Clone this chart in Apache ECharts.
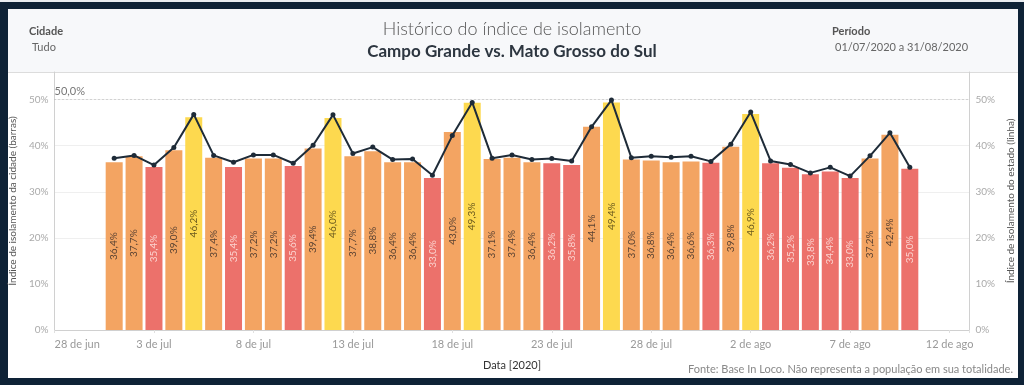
<!DOCTYPE html>
<html>
<head>
<meta charset="utf-8">
<script src="https://cdn.jsdelivr.net/npm/echarts@6/dist/echarts.min.js"></script>
<style>
html,body{margin:0;padding:0;background:#0e2236;}
#chart{width:1024px;height:385px;}
</style>
</head>
<body>
<div id="chart"></div>
<script>
// ---- data ----
const dates = [
  '2020-07-01','2020-07-02','2020-07-03','2020-07-04','2020-07-05','2020-07-06','2020-07-07',
  '2020-07-08','2020-07-09','2020-07-10','2020-07-11','2020-07-12','2020-07-13','2020-07-14',
  '2020-07-15','2020-07-16','2020-07-17','2020-07-18','2020-07-19','2020-07-20','2020-07-21',
  '2020-07-22','2020-07-23','2020-07-24','2020-07-25','2020-07-26','2020-07-27','2020-07-28',
  '2020-07-29','2020-07-30','2020-07-31','2020-08-01','2020-08-02','2020-08-03','2020-08-04',
  '2020-08-05','2020-08-06','2020-08-07','2020-08-08','2020-08-09','2020-08-10'
];
const cityValues = [
  36.4,37.7,35.4,39.0,46.2,37.4,35.4,37.2,37.2,35.6,39.4,46.0,37.7,38.8,
  36.4,36.4,33.0,43.0,49.3,37.1,37.4,36.4,36.2,35.8,44.1,49.4,37.0,36.8,
  36.4,36.6,36.3,39.8,46.9,36.2,35.2,33.8,34.4,33.0,37.2,42.4,35.0
];
const stateValues = [
  37.3,37.9,35.8,39.6,46.8,37.9,36.4,38.0,38.0,36.2,40.1,46.7,38.3,39.7,
  37.0,37.1,33.6,42.2,49.4,37.3,38.0,37.0,37.2,36.7,44.1,49.9,37.4,37.7,
  37.5,37.7,36.6,40.3,47.3,36.7,35.9,34.1,35.3,33.4,37.8,42.8,35.3
];
const axisStartDate = '2020-06-28';
const tickLabels = ['28 de jun','3 de jul','8 de jul','13 de jul','18 de jul','23 de jul','28 de jul','2 de ago','7 de ago','12 de ago'];
const referenceValue = 50.0;

// ---- helpers ----
const DAY = 86400000;
const t0 = Date.parse(axisStartDate + 'T00:00:00Z');
const dayIndex = d => Math.round((Date.parse(d + 'T00:00:00Z') - t0) / DAY);
const fmt = v => v.toFixed(1).replace('.', ',') + '%';

const RED = '#ec716b', ORANGE = '#f3a462', YELLOW = '#fdd94f';
function barStyle(v) {
  if (v < 36.35) return {c: RED, l: '#fbd3cf'};
  if (v >= 45) return {c: YELLOW, l: '#6b5a1e'};
  return {c: ORANGE, l: '#5a4232'};
}
const barData = dates.map((d, i) => {
  const s = barStyle(cityValues[i]);
  return {value: [dayIndex(d), cityValues[i]], itemStyle: {color: s.c}, label: {color: s.l}};
});
const lineData = dates.map((d, i) => [dayIndex(d), stateValues[i]]);

const FONT = 'Lato, "Open Sans", sans-serif';
const chart = echarts.init(document.getElementById('chart'));
chart.setOption({
  animation: false,
  backgroundColor: '#0e2236',
  textStyle: {fontFamily: FONT},
  graphic: {elements: [
    {type: 'rect', z: -10, shape: {x: 0, y: 0, width: 1024, height: 2}, style: {fill: '#e9edf1'}},
    {type: 'rect', z: -10, shape: {x: 8, y: 9, width: 1010, height: 369}, style: {fill: '#ffffff'}},
    {type: 'rect', z: -9, shape: {x: 8, y: 9, width: 1010, height: 63}, style: {fill: '#f7f8fa'}},
    {type: 'line', z: -8, shape: {x1: 8, y1: 72.5, x2: 1018, y2: 72.5}, style: {stroke: '#dcdcdc', lineWidth: 1}}
  ]},
  title: [
    {text: 'Histórico do índice de isolamento', left: 'center', top: 15,
     textStyle: {fontFamily: FONT, fontSize: 18, fontWeight: 300, color: '#555'}},
    {text: 'Campo Grande vs. Mato Grosso do Sul', left: 'center', top: 38,
     textStyle: {fontFamily: FONT, fontSize: 17, fontWeight: 'bold', color: '#2d3640'}},
    {text: 'Cidade', left: 24, top: 21, textStyle: {fontFamily: FONT, fontSize: 11, fontWeight: 'bold', color: '#555'}},
    {text: 'Tudo', left: 27, top: 37, textStyle: {fontFamily: FONT, fontSize: 11, fontWeight: 'normal', color: '#666'}},
    {text: 'Período', left: 827, top: 21, textStyle: {fontFamily: FONT, fontSize: 11, fontWeight: 'bold', color: '#555'}},
    {text: '01/07/2020 a 31/08/2020', left: 830, top: 37, textStyle: {fontFamily: FONT, fontSize: 11, fontWeight: 'normal', color: '#666'}},
    {text: 'Fonte: Base In Loco. Não representa a população em sua totalidade.', right: 6, top: 359,
     textStyle: {fontFamily: FONT, fontSize: 11, fontWeight: 'normal', color: '#888'}}
  ],
  grid: {left: 53, right: 51, top: 72, bottom: 55, containLabel: false},
  xAxis: {
    type: 'value', min: 0, max: 46, interval: 5,
    name: 'Data [2020]', nameLocation: 'middle', nameGap: 30,
    nameTextStyle: {fontFamily: FONT, fontSize: 11, color: '#333'},
    axisLine: {show: true, lineStyle: {color: '#d0d0d0'}},
    axisTick: {show: true, length: 3, lineStyle: {color: '#e0e0e0'}},
    splitLine: {show: false},
    axisLabel: {
      fontFamily: FONT, fontSize: 11, color: '#999', margin: 9,
      alignMinLabel: 'left',
      formatter: v => (v % 5 === 0 && tickLabels[v / 5]) ? tickLabels[v / 5] : ''
    }
  },
  yAxis: [
    {
      type: 'value', min: 0, max: 56, interval: 10, position: 'left',
      name: 'Índice de isolamento da cidade (barras)', nameLocation: 'middle', nameGap: 28,
      nameTextStyle: {fontFamily: FONT, fontSize: 10, color: '#555'},
      axisLine: {show: true, lineStyle: {color: '#d0d0d0'}},
      axisTick: {show: false},
      axisLabel: {fontFamily: FONT, fontSize: 10, color: '#aaa', margin: 6, showMaxLabel: false,
                  formatter: v => v + '%'},
      splitLine: {show: true, showMinLine: false, showMaxLine: false,
                  lineStyle: {color: ['transparent','#efefef','#efefef','#efefef','#efefef','transparent','transparent']}}
    },
    {
      type: 'value', min: 0, max: 56, interval: 10, position: 'right',
      name: 'Índice de isolamento do estado (linha)', nameLocation: 'middle', nameGap: 29,
      nameRotate: 90,
      nameTextStyle: {fontFamily: FONT, fontSize: 10, color: '#555'},
      axisLine: {show: true, lineStyle: {color: '#d0d0d0'}},
      axisTick: {show: false},
      axisLabel: {fontFamily: FONT, fontSize: 10, color: '#aaa', margin: 6, showMaxLabel: false,
                  formatter: v => v + '%'},
      splitLine: {show: false}
    }
  ],
  series: [
    {
      type: 'bar', yAxisIndex: 0, barWidth: 17, data: barData,
      label: {show: true, position: 'inside', rotate: 90, fontFamily: FONT, fontSize: 10,
              formatter: p => fmt(p.value[1])},
      markLine: {
        silent: true, symbol: 'none',
        lineStyle: {color: '#b5b5b5', type: [1, 3], width: 1},
        label: {show: true, position: 'insideStartTop', formatter: fmt(referenceValue),
                fontFamily: FONT, fontSize: 11, color: '#777', distance: [0, 3]},
        data: [{yAxis: referenceValue}]
      },
      z: 2
    },
    {
      type: 'line', yAxisIndex: 1, data: lineData,
      symbol: 'circle', symbolSize: 5,
      lineStyle: {color: '#1e2b38', width: 2},
      itemStyle: {color: '#1e2b38'},
      z: 5
    }
  ]
});
</script>
</body>
</html>
